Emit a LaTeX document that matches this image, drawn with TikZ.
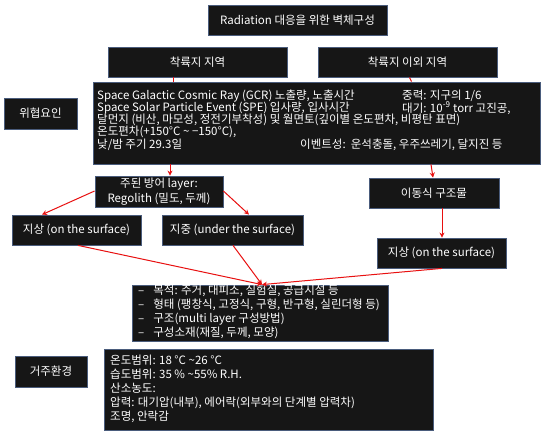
\documentclass[tikz,border=0pt]{standalone}
\usepackage{fontspec}
\setmainfont{Noto Sans CJK KR}
\usetikzlibrary{arrows.meta}
\definecolor{boxfill}{HTML}{161616}
\definecolor{boxline}{HTML}{4A5C7C}
\definecolor{arrred}{HTML}{E81010}
\newcommand{\tld}{\char"007E\relax}
\begin{document}
\begin{tikzpicture}[x=1pt,y=-1pt,
  box/.style={draw=boxline, fill=boxfill, text=white, line width=0.8pt, inner sep=0pt, align=center, font=\fontsize{11.5}{14.5}\selectfont},
  txt/.style={text=white, inner sep=0pt, anchor=west, font=\fontsize{11.5}{13}\selectfont},
  arr/.style={draw=arrred, line width=1pt, -{Stealth[length=5pt,width=5pt]}},
  link/.style={draw=arrred, line width=1pt}]
\useasboundingbox (0,0) rectangle (550,438);
\fill[white] (0,0) rectangle (550,438);
% boxes
\node[box, minimum width=179, minimum height=30] (title) at (297.5,20) {Radiation 대응을 위한 벽체구성};
\node[box, minimum width=179, minimum height=30] (land) at (197.5,62) {착륙지 지역};
\node[box, minimum width=179, minimum height=30] (nonland) at (407.5,62) {착륙지 이외 지역};
\node[box, minimum width=73, minimum height=31] (threat) at (40.5,113.5) {위협요인};
\node[box, minimum width=447, minimum height=82] (big) at (316.5,123) {};
\node[box, minimum width=128, minimum height=31] (shield) at (159,191.5) {주된 방어 layer:\\Regolith (밀도, 두께)};
\node[box, minimum width=129, minimum height=30] (surfL) at (76.5,230) {지상 (on the surface)};
\node[box, minimum width=141, minimum height=30] (under) at (232.5,230) {지중 (under the surface)};
\node[box, minimum width=130, minimum height=30] (mobile) at (434,193) {이동식 구조물};
\node[box, minimum width=129, minimum height=30] (surfR) at (441.5,253) {지상 (on the surface)};
\node[box, minimum width=256, minimum height=56] (purpose) at (260,313) {};
\node[box, minimum width=72, minimum height=31] (habl) at (51,371.5) {거주환경};
\node[box, minimum width=329, minimum height=81] (hab) at (268.5,389.5) {};
% threat texts
\node[txt] (t1) at (97,96) {Space Galactic Cosmic Ray (GCR) 노출량, 노출시간};
\node[txt] (t2) at (97,108) {Space Solar Particle Event (SPE) 입사량, 입사시간};
\node[txt] (t3) at (97,120) {달먼지 (비산, 마모성, 정전기부착성) 및 월면토(깊이별 온도편차, 비평탄 표면)};
\node[txt] (t4) at (97,132) {온도편차(+150°C \tld\ −150°C),};
\node[txt] (t5) at (97,145) {낮/밤 주기 29.3일};
\node[txt] (t6) at (402,96) {중력: 지구의 1/6};
\node[txt] (t7) at (402,108) {대기: 10\textsuperscript{-9} torr 고진공,};
\node[txt] (t8) at (300,145) {이벤트성:\ \ 운석충돌, 우주쓰레기, 달지진 등};
% purpose texts
\node[txt] (p1) at (138,291) {–\hspace{9pt}목적: 주거, 대피소, 실험실, 공급시설 등};
\node[txt] (p2) at (138,305) {–\hspace{9pt}형태 (팽창식, 고정식, 구형, 반구형, 실린더형 등)};
\node[txt] (p3) at (138,319) {–\hspace{9pt}구조(multi layer 구성방법)};
\node[txt] (p4) at (138,333) {–\hspace{9pt}구성소재(재질, 두께, 모양)};
% habitat texts
\node[txt] (h1) at (110,360) {온도범위: 18 °C \tld26 °C};
\node[txt] (h2) at (110,374) {습도범위: 35 \% \tld55\% R.H.};
\node[txt] (h3) at (110,388) {산소농도:};
\node[txt] (h4) at (110,403) {압력: 대기압(내부), 에어락(외부와의 단계별 압력차)};
\node[txt] (h5) at (110,417) {조명, 안락감};
% connectors
\coordinate (conv) at ([xshift=2pt]purpose.north);
\draw[link] ([xshift=-24.5pt]land.south) -- ([xshift=-24.5pt]land.south |- big.north);
\draw[link] ([xshift=2pt]nonland.south) -- ([xshift=4pt]nonland.south |- big.north);
\draw[arr] ([xshift=-146.5pt]big.south) -- ([xshift=11pt]shield.north);
\draw[arr] ([yshift=0.5pt]shield.west) -- ([xshift=-34.5pt]surfL.north);
\draw[arr] ([yshift=0.5pt]shield.east) -- ([xshift=16.5pt]under.north);
\draw[arr] ([xshift=114.5pt]big.south) -- ([xshift=-1pt]mobile.north);
\draw[arr] ([xshift=8pt]mobile.south) -- ([xshift=0.5pt]surfR.north);
\draw[arr] ([xshift=1.5pt]surfL.south) -- (conv);
\draw[arr] ([xshift=0.5pt]under.south) -- (conv);
\draw[arr] ([xshift=0.5pt]surfR.south) -- (conv);
\end{tikzpicture}
\end{document}
